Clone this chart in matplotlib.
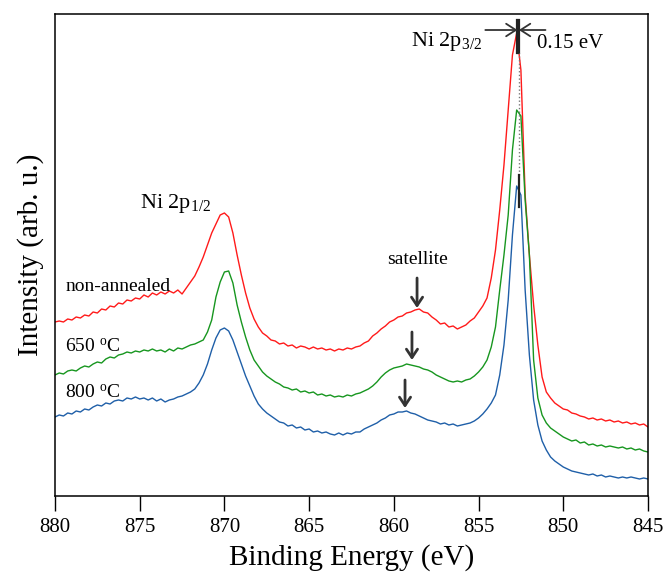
import numpy as np
import matplotlib
matplotlib.use("Agg")
import matplotlib.pyplot as plt

plt.rcParams['font.family'] = ['Liberation Serif', 'DejaVu Serif']
plt.rcParams['mathtext.fontset'] = 'custom'
plt.rcParams['mathtext.rm'] = 'Liberation Serif'
plt.rcParams['mathtext.it'] = 'Liberation Serif:italic'

# Binding energy grid (eV), 0.25 eV step from 880 down to 845
energy = np.arange(880.0, 844.99, -0.25)

# Ni 2p spectra, stacked with vertical offsets (arb. u.)
non_annealed = [
    178,
    179, 178, 181, 180, 183, 182, 185, 184, 188, 187, 191, 190,
    194, 193, 197, 196, 200, 199, 202, 201, 205, 203, 207, 205,
    208, 206, 209, 207, 210, 206, 212, 218, 224, 233, 243, 255,
    267, 276, 285, 287, 283, 267, 245, 225, 207, 192, 181, 173,
    167, 164, 160, 159, 156, 157, 154, 155, 152, 154, 153, 151,
    153, 151, 152, 150, 151, 149, 151, 150, 152, 151, 153, 154,
    157, 159, 164, 167, 171, 174, 178, 180, 183, 184, 187, 188,
    190, 191, 188, 187, 183, 180, 176, 177, 173, 174, 171, 173,
    175, 179, 182, 188, 194, 202, 222, 250, 290, 335, 390, 445,
    467, 430, 305, 245, 195, 155, 123, 108, 102, 97, 94, 91,
    90, 87, 86, 84, 83, 81, 82, 80, 81, 79, 80, 78,
    79, 77, 78, 76, 77, 75, 76, 73,
]

annealed_650 = [
    125,
    127, 126, 129, 130, 129, 132, 134, 133, 136, 138, 137, 141,
    143, 142, 145, 146, 148, 147, 149, 148, 150, 149, 151, 149,
    150, 148, 151, 149, 152, 151, 153, 155, 156, 158, 160, 168,
    180, 203, 218, 228, 229, 217, 195, 178, 163, 150, 140, 134,
    128, 124, 121, 118, 116, 113, 112, 110, 111, 108, 109, 107,
    108, 105, 106, 104, 105, 103, 104, 103, 105, 104, 106, 107,
    109, 111, 114, 118, 123, 127, 130, 132, 133, 134, 136, 135,
    134, 133, 131, 130, 128, 125, 123, 121, 119, 118, 119, 118,
    120, 121, 124, 128, 133, 140, 153, 173, 210, 245, 285, 350,
    390, 384, 300, 245, 140, 102, 85, 77, 72, 69, 66, 63,
    61, 59, 60, 57, 58, 55, 56, 54, 55, 53, 54, 53,
    52, 53, 51, 52, 50, 51, 49, 48,
]

annealed_800 = [
    83,
    85, 84, 87, 86, 89, 88, 91, 90, 93, 95, 94, 97,
    96, 99, 100, 99, 102, 101, 103, 101, 102, 100, 102, 99,
    101, 98, 100, 101, 103, 104, 106, 108, 111, 117, 125, 136,
    150, 162, 170, 172, 169, 160, 148, 136, 124, 114, 104, 96,
    91, 87, 84, 81, 78, 77, 74, 75, 72, 73, 70, 71,
    68, 69, 67, 68, 66, 65, 67, 65, 67, 66, 68, 68,
    71, 73, 75, 77, 80, 82, 85, 86, 88, 88, 89, 87,
    86, 84, 82, 80, 79, 78, 76, 77, 75, 76, 74, 75,
    76, 77, 79, 82, 86, 91, 97, 105, 125, 155, 200, 265,
    314, 305, 210, 145, 100, 75, 59, 50, 43, 39, 36, 33,
    31, 29, 28, 27, 26, 25, 26, 24, 25, 23, 24, 23,
    22, 23, 22, 23, 22, 21, 22, 21,
]

series_colors = ['#ff1a1a', '#17961f', '#1f5fa8']

# Ni 2p3/2 peak positions used for the 0.15 eV shift marker
peak_red = 852.75
peak_shift = 0.15

fig = plt.figure(figsize=(6.65, 5.74), dpi=100)
ax = fig.add_axes([0.0827, 0.1359, 0.8917, 0.8397])

for vals, col in zip([non_annealed, annealed_650, annealed_800], series_colors):
    ax.plot(energy, vals, color=col, lw=1.0)

ax.set_xlim(880, 845)
ax.set_ylim(4, 486)
ax.set_xticks([880, 875, 870, 865, 860, 855, 850, 845])
ax.set_yticks([])
ax.tick_params(axis='x', direction='out', length=11, width=1.0, labelsize=15, pad=5)
for sp in ax.spines.values():
    sp.set_linewidth(1.1)

ax.set_xlabel('Binding Energy (eV)', fontsize=21, labelpad=5)
ax.set_ylabel('Intensity (arb. u.)', fontsize=21, labelpad=8)

# Peak labels
ax.text(859.0, 459, 'Ni 2p$_{\\mathrm{3/2}}$', fontsize=16, va='center', ha='left')
ax.text(875.0, 297, 'Ni 2p$_{\\mathrm{1/2}}$', fontsize=16, va='center', ha='left')
ax.text(860.4, 240, 'satellite', fontsize=14, va='center', ha='left')

# Sample labels
ax.text(879.35, 213, 'non-annealed', fontsize=14, va='center', ha='left')
ax.text(879.4, 153, '650 $^{\\mathrm{o}}$C', fontsize=14, va='center', ha='left')
ax.text(879.4, 107, '800 $^{\\mathrm{o}}$C', fontsize=14, va='center', ha='left')

# Shift marker at the Ni 2p3/2 maximum
peak_blue = peak_red - peak_shift
ax.annotate('', xy=(peak_red - 0.05, 470), xytext=(854.6, 470),
            arrowprops=dict(arrowstyle='->,head_length=0.7,head_width=0.45',
                            color='#333333', lw=1.3, shrinkA=0, shrinkB=0))
ax.annotate('', xy=(peak_blue + 0.02, 470), xytext=(851.05, 470),
            arrowprops=dict(arrowstyle='->,head_length=0.7,head_width=0.45',
                            color='#333333', lw=1.3, shrinkA=0, shrinkB=0))
ax.plot([peak_red, peak_red], [447, 480], color='#222222', lw=1.6)
ax.plot([peak_blue, peak_blue], [447, 480], color='#222222', lw=1.6)
ax.plot([peak_blue, peak_blue], [325, 447], color='#777777', lw=1.0, ls=':')
ax.plot([peak_blue, peak_blue], [293, 325], color='#222222', lw=1.6)
ax.text(851.55, 457, '0.15 eV', fontsize=15, va='center', ha='left')

# Satellite arrows
for xe, y0, y1 in [(858.63, 222, 192), (858.93, 168, 140), (859.34, 120, 92)]:
    ax.annotate('', xy=(xe, y1), xytext=(xe, y0),
                arrowprops=dict(arrowstyle='->,head_length=0.6,head_width=0.4',
                                color='#333333', lw=2.0, shrinkA=0, shrinkB=0))

fig.savefig('out.png', dpi=100)
